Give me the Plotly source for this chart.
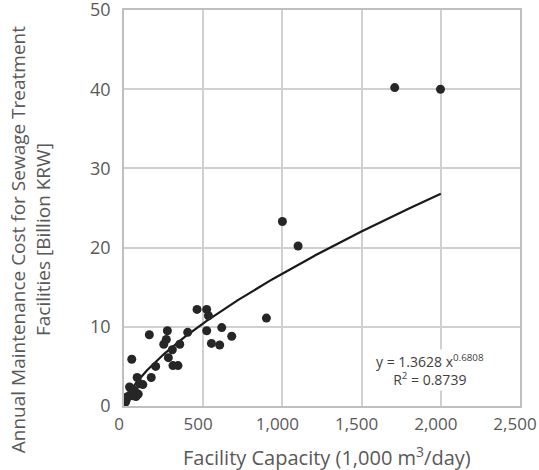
import numpy as np
import plotly.graph_objects as go

# Facility capacity (1,000 m3/day) and annual maintenance cost (billion KRW)
capacity = [1709, 1998, 1000, 1099, 899, 461, 522, 533, 522, 617, 680, 552, 604,
            402, 352, 274, 267, 251, 305, 280, 309, 341, 160, 49, 200, 172, 83,
            119, 35, 66, 76, 24, 10, 3, 56, 46, 15, 90, 100]
cost = [40.2, 40.0, 23.3, 20.2, 11.1, 12.2, 12.2, 11.4, 9.5, 9.9, 8.8, 7.9, 7.7,
        9.3, 7.8, 9.5, 8.4, 7.8, 7.1, 6.1, 5.1, 5.1, 9.0, 5.9, 5.0, 3.6, 3.6,
        2.7, 2.4, 2.0, 1.2, 1.2, 0.5, 1.0, 1.3, 1.6, 0.8, 1.5, 2.8]

# Power trendline (as drawn): y = a * x^b
TREND_A = 0.1517
TREND_B = 0.6808
trend_x = np.linspace(5, 2000, 200)
trend_y = TREND_A * trend_x ** TREND_B

x_ticks = [0, 500, 1000, 1500, 2000, 2500]
x_tick_labels = ["0", "500", "1,000", "1,500", "2,000", "2,500"]
y_ticks = [0, 10, 20, 30, 40, 50]

FONT = "Open Sans"
GRAY = "#595959"

fig = go.Figure()
fig.add_trace(go.Scatter(x=trend_x, y=trend_y, mode="lines",
                         line=dict(color="#1a1a1a", width=2.2), hoverinfo="skip"))
fig.add_trace(go.Scatter(x=capacity, y=cost, mode="markers",
                         marker=dict(color="#262626", size=9, line=dict(width=0))))

fig.update_layout(
    width=539, height=470,
    margin=dict(l=124, r=19, t=10, b=64, autoexpand=False),
    paper_bgcolor="white", plot_bgcolor="white",
    showlegend=False,
    font=dict(family=FONT, size=18, color=GRAY),
    xaxis=dict(range=[0, 2500], tickvals=x_ticks, ticktext=x_tick_labels,
               showgrid=True, gridcolor="#d0d0d0", gridwidth=1.5,
               showline=True, linecolor="#bfbfbf", linewidth=1.5, mirror=True,
               zeroline=False, ticks="", ticklabeloverflow="allow", automargin=False,
               ticklabelshift=-5, ticklabelstandoff=2,
               tickfont=dict(size=17, color=GRAY)),
    yaxis=dict(range=[0, 50], tickvals=y_ticks,
               showgrid=True, gridcolor="#d0d0d0", gridwidth=1.5,
               showline=True, linecolor="#bfbfbf", linewidth=1.5, mirror=True,
               zeroline=False, ticks="", ticklabelstandoff=8, automargin=False,
               ticklabeloverflow="allow",
               tickfont=dict(size=18, color=GRAY)),
    annotations=[
        dict(text="Facility Capacity (1,000 m<sup>3</sup>/day)", xref="paper", yref="paper",
             x=0.513, y=-0.128, xanchor="center", yanchor="middle", showarrow=False,
             font=dict(size=20, color=GRAY)),
        dict(text="Annual Maintenance Cost for Sewage Treatment<br>Facilities [Billion KRW]",
             xref="paper", yref="paper", x=-0.236, y=0.42, xanchor="center", yanchor="middle",
             textangle=-90, showarrow=False, font=dict(size=19, color=GRAY)),
        dict(text="y = 1.3628 x<sup>0.6808</sup><br>R<sup>2</sup> = 0.8739", xref="x", yref="y",
             x=1930, y=4.6, xanchor="center", yanchor="middle", showarrow=False,
             font=dict(size=14, color="#404040"), bgcolor="white"),
    ],
)

fig.write_html("out.html")
